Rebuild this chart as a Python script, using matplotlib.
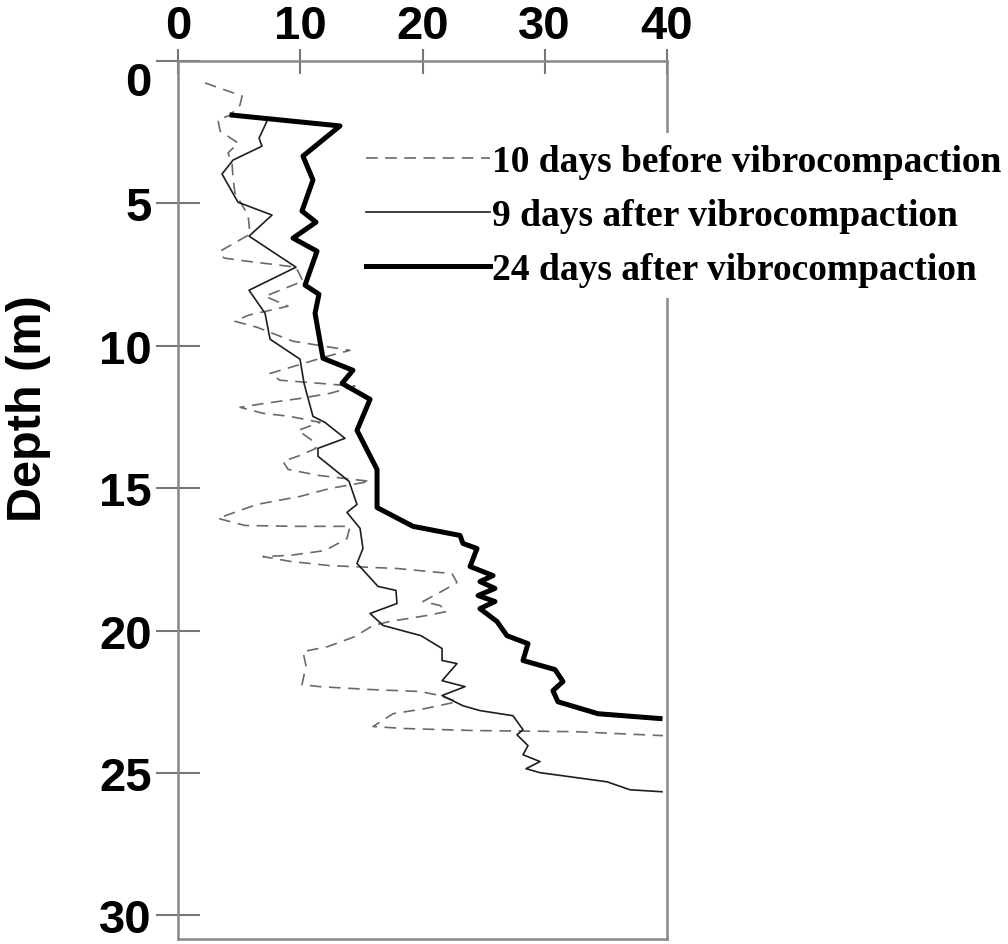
import numpy as np
import matplotlib
matplotlib.use("Agg")
import matplotlib.pyplot as plt

# cone readings (x) against depth (m)
depth_before = [0.77, 1.23, 1.55, 1.90, 2.07, 2.46, 2.88, 3.23, 3.59, 4.11, 4.64, 5.41, 6.08,
                6.68, 6.92, 7.03, 7.24, 7.73, 8.26, 8.61, 8.93, 9.14, 9.35, 9.84, 10.16, 10.37,
                10.69, 10.97, 11.21, 11.32, 11.42, 11.67, 11.85, 12.02, 12.16, 12.37, 12.48,
                12.69, 12.97, 13.32, 13.60, 13.85, 14.06, 14.34, 14.55, 14.76, 15.01, 15.29,
                15.57, 16.06, 16.31, 16.34, 16.34, 16.77, 17.19, 17.36, 17.40, 17.57, 17.72,
                17.82, 18.00, 18.31, 18.56, 18.98, 19.12, 19.33, 19.47, 19.68, 19.82, 20.21,
                20.56, 20.74, 21.23, 21.90, 21.97, 22.07, 22.14, 22.28, 22.50, 22.74, 22.92,
                23.37, 23.44, 23.51, 23.55, 23.69]
val_before = [2.21, 5.24, 5.07, 4.25, 3.27, 3.44, 4.91, 4.09, 4.42, 4.50, 4.66, 5.73, 5.89,
              3.44, 3.76, 5.64, 9.65, 10.22, 7.12, 9.00, 5.73, 4.66, 6.46, 9.41, 14.07, 12.19,
              9.73, 7.53, 8.34, 11.62, 14.48, 12.43, 9.98, 7.12, 5.07, 6.95, 9.16,
              11.62, 9.82, 10.96, 11.29, 9.98, 8.59, 9.00, 11.45, 15.71, 12.43, 9.98,
              6.46, 3.27, 5.48, 9.73, 14.07, 13.82, 12.02, 9.16, 6.95, 9.16, 12.43,
              17.91, 22.41, 22.82, 21.84, 20.04, 21.43, 22.00, 20.37, 17.34, 15.95, 14.48,
              12.27, 10.22, 10.47, 10.14, 11.62, 15.71, 19.80, 21.43, 22.82, 20.20, 17.59,
              15.95, 18.57, 24.13, 32.47, 39.67]

depth_9 = [2.11, 2.71, 2.99, 3.48, 3.97, 4.96, 5.41, 6.15, 7.24, 8.05, 8.86, 9.77, 10.47,
           11.32, 12.48, 12.69, 13.25, 13.60, 13.88, 14.76, 15.57, 15.85, 16.41, 17.12, 17.64,
           18.45, 18.59, 19.05, 19.40, 19.82, 20.18, 20.63, 21.05, 21.16, 21.76, 21.97, 22.28,
           22.64, 22.81, 22.99, 23.48, 23.66, 24.04, 24.36, 24.60, 24.85, 24.99, 25.31, 25.59,
           25.66]
val_9 = [7.28, 6.63, 6.87, 4.50, 3.60, 4.91, 7.69, 5.81, 9.65, 5.81, 7.12, 7.53, 9.98,
         10.31, 11.04, 12.02, 13.66, 11.45, 11.45, 13.99, 14.64, 13.82, 14.89, 15.13, 14.64,
         16.36, 17.83, 17.91, 15.71, 16.77, 19.88, 21.60, 21.60, 22.82, 21.60, 23.48, 21.60,
         23.31, 24.70, 27.40, 28.22, 27.73, 28.63, 28.22, 29.61, 28.47, 29.61, 35.09, 36.97,
         39.59]

depth_24 = [1.90, 2.28, 3.34, 4.18, 5.27, 5.66, 6.22, 6.68, 7.87, 8.19, 8.86, 10.44, 10.86,
            11.32, 11.88, 12.97, 14.34, 15.68, 16.34, 16.66, 16.94, 17.12, 17.75, 18.07,
            18.28, 18.52, 18.77, 18.98, 19.23, 19.68, 20.18, 20.46, 21.05, 21.37, 21.79,
            22.11, 22.50, 22.92, 23.09]
val_24 = [4.42, 13.25, 10.22, 11.04, 10.14, 11.29, 9.41, 11.37, 10.39, 11.53, 11.21, 11.86,
          14.31, 13.42, 15.71, 14.64, 16.28, 16.28, 19.22, 23.07, 23.31, 24.46, 23.89, 25.77,
          24.70, 25.93, 24.54, 25.93, 24.70, 26.09, 26.91, 28.63, 28.22, 30.84, 31.49,
          30.67, 31.08, 34.36, 39.43]

labels = ["10 days before vibrocompaction",
          "9 days after vibrocompaction",
          "24 days after vibrocompaction"]
xticks = [0, 10, 20, 30, 40]
yticks = [0, 5, 10, 15, 20, 25, 30]

fig = plt.figure(figsize=(10.08, 9.45), dpi=100)
ax = fig.add_axes([0.1766, 0.0053, 0.4851, 0.9291])

ax.plot(val_before, depth_before, color="#6a6a6a", lw=1.2, ls=(0, (7, 4.5)), label=labels[0])
ax.plot(val_9, depth_9, color="#1e1e1e", lw=1.2, label=labels[1])
ax.plot(val_24, depth_24, color="black", lw=3.6, label=labels[2])

ax.set_xlim(0, 40)
ax.set_ylim(30.83, 0)
ax.xaxis.tick_top()
ax.set_xticks(xticks)
ax.set_yticks(yticks)
tick_font = dict(family="Liberation Sans", weight="bold", size=34)
ax.set_xticklabels([str(t) for t in xticks], **tick_font)
ax.set_yticklabels([str(t) for t in yticks], **tick_font)
ax.get_yticklabels()[0].set_va("top")
ax.tick_params(axis="x", direction="inout", length=18, width=1.5, color="#777777", pad=0)
ax.tick_params(axis="y", direction="inout", length=32, width=1.5, color="#777777", pad=3)

for s in ax.spines.values():
    s.set_color("#888888")
    s.set_linewidth(1.8)

fig.text(0.028, 0.568, "Depth (m)", rotation=90, ha="center", va="center",
         family="Liberation Sans", weight="bold", size=35)

leg = ax.legend(loc="upper left", bbox_to_anchor=(0.352, 0.858), bbox_transform=fig.transFigure,
                prop=dict(family="Liberation Serif", weight="bold", size=27),
                handlelength=3.3, handletextpad=0.05, labelspacing=0.5,
                frameon=True, fancybox=False, borderpad=0.3, borderaxespad=0)
leg.get_frame().set_edgecolor("none")
leg.get_frame().set_facecolor("white")
leg.get_frame().set_alpha(1)

fig.savefig("out.png", dpi=100)
